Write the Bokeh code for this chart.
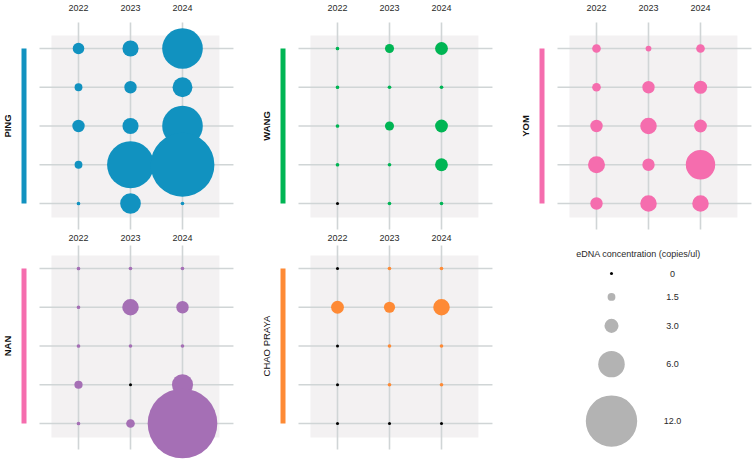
import math
from bokeh.plotting import figure
from bokeh.layouts import column, row
from bokeh.models import Range1d, FixedTicker, ColumnDataSource
from bokeh.core.properties import value
from bokeh.embed import file_html
from bokeh.resources import INLINE

# ---------------- data ----------------
years = ["2022", "2023", "2024"]
sites = ["Site 1", "Site 2", "Site 3", "Site 4", "Site 5"]
rivers = ["PING", "WANG", "YOM", "NAN", "CHAO PRAYA"]

# eDNA concentration (copies/ul), rows = sites (top to bottom), cols = years
ping = [[2.4, 3.5, 9.4],
        [1.5, 2.6, 4.4],
        [2.6, 3.5, 9.4],
        [1.5, 10.9, 15.0],
        [0.5, 4.6, 0.5]]
wang = [[0.5, 1.8, 2.7],
        [0.5, 0.5, 0.5],
        [0.5, 1.8, 2.7],
        [0.5, 0.5, 2.7],
        [0.0, 0.5, 0.5]]
yom = [[1.7, 1.0, 1.7],
       [1.7, 2.6, 2.8],
       [2.6, 3.6, 2.7],
       [3.7, 2.6, 6.7],
       [2.6, 3.6, 3.6]]
nan_ = [[0.5, 0.5, 0.5],
        [0.5, 3.6, 2.6],
        [0.5, 0.5, 0.5],
        [1.6, 0.0, 4.7],
        [0.5, 1.7, 16.4]]
chao = [[0.0, 0.5, 0.5],
        [2.7, 2.3, 3.6],
        [0.0, 0.5, 0.5],
        [0.0, 0.5, 0.5],
        [0.0, 0.0, 0.0]]

legend_values = [0, 1.5, 3.0, 6.0, 12.0]
legend_labels = ["0", "1.5", "3.0", "6.0", "12.0"]
legend_title = "eDNA concentration (copies/ul)"

# ---------------- styles ----------------
river_data = {"PING": ping, "WANG": wang, "YOM": yom, "NAN": nan_, "CHAO PRAYA": chao}
bubble_colors = {"PING": "#1192C0", "WANG": "#00B554", "YOM": "#F56DAE",
                 "NAN": "#A56FB5", "CHAO PRAYA": "#FE8A35"}
bar_colors = {"PING": "#1192C0", "WANG": "#00B554", "YOM": "#F56DAE",
              "NAN": "#F56DAE", "CHAO PRAYA": "#FE8A35"}
label_weight = {"PING": "bold", "WANG": "bold", "YOM": "bold", "NAN": "bold",
                "CHAO PRAYA": "normal"}
FONT = "Liberation Sans"
BG = "#F3F1F2"
GRID = "#D0D5D6"

COL_PX = 52.0      # pixel spacing between year columns
ROW_PX = 38.75     # pixel spacing between site rows
FIRST_COL = 78.0   # pixel position of first column inside a panel


def diameter(v):
    return 3.0 if v == 0 else 1.6 + 4.15 * v


def make_panel(name, width, height, top_border, first_row, standoff):
    data = river_data[name]
    x_range = Range1d((0 - FIRST_COL) / COL_PX, (width - FIRST_COL) / COL_PX)
    y_range = Range1d((height - first_row) / ROW_PX, (top_border - first_row) / ROW_PX)
    p = figure(width=width, height=height, x_range=x_range, y_range=y_range,
               output_backend="svg", toolbar_location=None,
               x_axis_location="above", y_axis_location=None,
               min_border_left=0, min_border_right=0, min_border_bottom=0,
               min_border_top=top_border, outline_line_color=None,
               background_fill_color="white", border_fill_color="white")
    p.grid.visible = False
    ax = p.xaxis[0]
    ax.ticker = FixedTicker(ticks=list(range(len(years))))
    ax.major_label_overrides = {i: y for i, y in enumerate(years)}
    ax.axis_line_color = None
    ax.major_tick_line_color = None
    ax.minor_tick_line_color = None
    ax.major_tick_out = 0
    ax.major_tick_in = 0
    ax.major_label_standoff = standoff
    ax.major_label_text_font = FONT
    ax.major_label_text_font_size = "9px"
    ax.major_label_text_color = "#2a2a2a"

    n_rows = len(sites)
    n_cols = len(years)
    # panel background
    p.quad(left=[-0.52], right=[n_cols - 1 + 0.71], top=[-0.335], bottom=[n_rows - 1 + 0.36],
           fill_color=BG, line_color=None)
    # grid lines
    p.segment(x0=[-0.75] * n_rows, x1=[n_cols - 1 + 0.98] * n_rows,
              y0=list(range(n_rows)), y1=list(range(n_rows)),
              line_color=GRID, line_width=1.6)
    p.segment(x0=list(range(n_cols)), x1=list(range(n_cols)),
              y0=[-0.67] * n_cols, y1=[n_rows - 1 + 0.67] * n_cols,
              line_color=GRID, line_width=1.6)
    # colored side bar
    p.quad(left=[-1.096], right=[-1.0], top=[0], bottom=[n_rows - 1],
           fill_color=bar_colors[name], line_color=None)
    # river label
    p.text(x=[-1.375], y=[(n_rows - 1) / 2], text=[name], angle=math.pi / 2,
           text_align="center", text_baseline="middle",
           text_font=value(FONT), text_font_size="9.5px",
           text_font_style=label_weight[name], text_color="#111111")
    # bubbles
    xs, ys, sz, cl = [], [], [], []
    for j in range(n_rows):
        for i in range(n_cols):
            v = data[j][i]
            xs.append(i)
            ys.append(j)
            sz.append(diameter(v))
            cl.append("#000000" if v == 0 else bubble_colors[name])
    src = ColumnDataSource(dict(x=xs, y=ys, size=sz, color=cl))
    p.scatter(x="x", y="y", size="size", fill_color="color", line_color=None, source=src)
    return p


def make_legend(width, height, top_border):
    # data coordinates of this figure are pixel offsets from the figure's top-left corner
    p = figure(width=width, height=height, x_range=Range1d(0, width),
               y_range=Range1d(height, top_border),
               output_backend="svg", toolbar_location=None,
               x_axis_location=None, y_axis_location=None,
               min_border_left=0, min_border_right=0, min_border_bottom=0,
               min_border_top=top_border, outline_line_color=None,
               background_fill_color="white", border_fill_color="white")
    p.grid.visible = False
    p.text(x=[120], y=[23], text=[legend_title], text_align="center", text_baseline="middle",
           text_font=value(FONT), text_font_size="9px", text_color="#2a2a2a")
    ds = [diameter(v) for v in legend_values]
    ys = []
    y = 43.0
    gap = 18.0
    for k, d in enumerate(ds):
        if k > 0:
            y = ys[-1] + ds[k - 1] / 2 + gap + d / 2
        ys.append(y)
    cols = ["#000000" if v == 0 else "#B3B3B3" for v in legend_values]
    p.scatter(x=[93] * len(ds), y=ys, size=ds, fill_color=cols, line_color=None)
    p.text(x=[154] * len(ds), y=ys, text=legend_labels, text_align="center",
           text_baseline="middle", text_font=value(FONT), text_font_size="9px",
           text_color="#2a2a2a")
    return p


f1 = make_panel("PING", 259, 230, 19, 48, 9)
f2 = make_panel("WANG", 259, 230, 19, 48, 9)
f3 = make_panel("YOM", 236, 230, 19, 48, 9)
f4 = make_panel("NAN", 259, 231, 15, 38, 5)
f5 = make_panel("CHAO PRAYA", 259, 231, 15, 38, 5)
f6 = make_legend(236, 231, 15)

layout = column(row(f1, f2, f3, spacing=0), row(f4, f5, f6, spacing=0), spacing=0)

open("out.html", "w").write(file_html(layout, INLINE))
